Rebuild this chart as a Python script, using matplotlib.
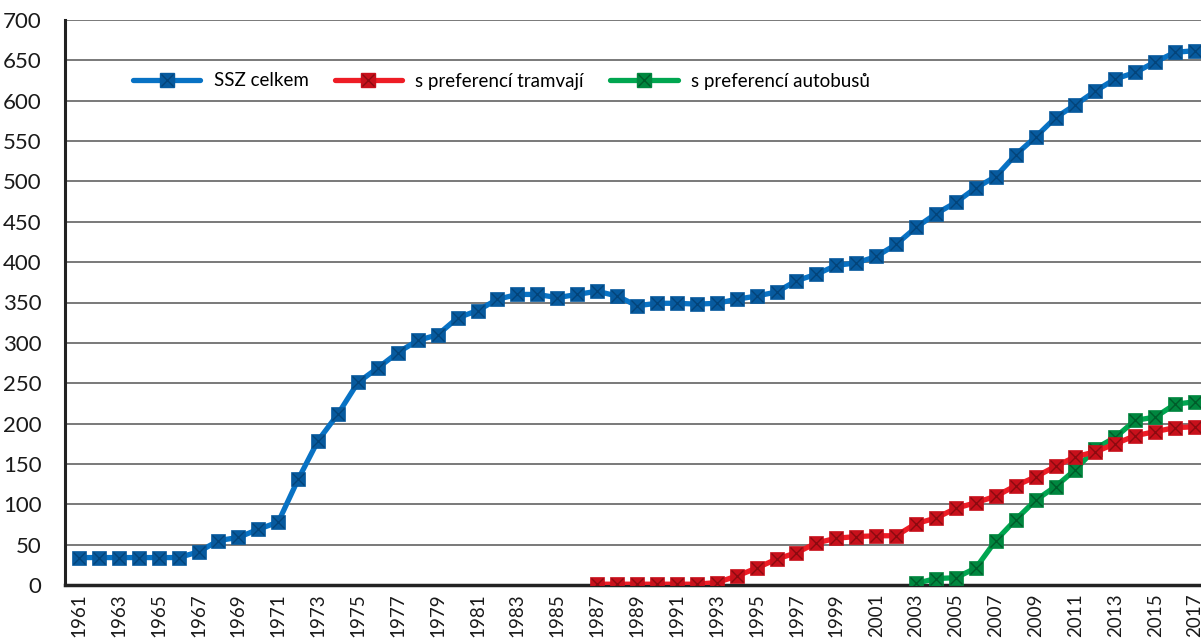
import numpy as np
import matplotlib.pyplot as plt
from matplotlib.legend_handler import HandlerTuple

plt.rcParams['font.family'] = ['Lato', 'DejaVu Sans']

years = np.arange(1961, 2018)

ssz_celkem = [34, 34, 34, 34, 34, 34, 41, 55, 59, 69, 78, 131, 179, 212, 251,
              269, 288, 303, 310, 331, 340, 354, 360, 360, 356, 360, 364, 358,
              346, 349, 349, 348, 349, 354, 358, 363, 377, 385, 396, 399, 407,
              422, 443, 460, 474, 492, 506, 533, 555, 579, 595, 612, 627, 635,
              648, 660, 662]

tram_years = np.arange(1987, 2018)
pref_tramvaji = [1, 1, 1, 1, 1, 1, 3, 11, 21, 32, 40, 52, 58, 60, 61, 61, 76,
                 83, 95, 102, 110, 123, 134, 147, 159, 165, 175, 185, 190, 195,
                 196]

bus_years = np.arange(2003, 2018)
pref_autobusu = [2, 8, 9, 21, 55, 81, 105, 122, 143, 169, 183, 204, 208, 224,
                 227]

series = [
    (years, ssz_celkem, 'SSZ celkem', '#0872c4', '#075a9e', '#03447a', 3),
    (tram_years, pref_tramvaji, 's preferencí tramvají', '#ee1c25', '#c8101b', '#8c0a10', 5),
    (bus_years, pref_autobusu, 's preferencí autobusů', '#00a650', '#00873f', '#005c2a', 4),
]

fig = plt.figure(figsize=(12.01, 6.39), dpi=100)
ax = fig.add_axes([65 / 1201, 1 - 585 / 639, (1209 - 65) / 1201, 565 / 639])

handles = []
labels = []
for x, y, name, lc, mc, xc, z in series:
    ax.plot(x, y, color=lc, lw=3.8, zorder=z, solid_capstyle='round')
    ax.plot(x, y, ls='none', marker='s', ms=10, mfc=mc, mec=mc, mew=0.5, zorder=z)
    ax.plot(x, y, ls='none', marker='x', ms=9, mec=xc, mew=1.0, zorder=z + 0.1)
    h1, = ax.plot([], [], color=lc, lw=3.8, marker='s', ms=10, mfc=mc, mec=mc,
                  solid_capstyle='round')
    h2, = ax.plot([], [], ls='none', marker='x', ms=9, mec=xc, mew=1.0)
    handles.append((h1, h2))
    labels.append(name)

ax.set_xlim(1960.3, 2017.7)
ax.set_ylim(0, 700)
ax.set_yticks(np.arange(0, 701, 50))
ax.set_xticks(years[::2])
ax.set_xticklabels([str(v) for v in years[::2]], rotation=90, va='top')
ax.tick_params(axis='y', length=0, pad=17, labelsize=16, colors='#1a1a1a')
ax.tick_params(axis='x', length=0, pad=6, labelsize=13.5, colors='#1a1a1a')

ax.grid(axis='y', color='#555555', lw=1.1)
ax.set_axisbelow(True)
for s in ['top', 'right']:
    ax.spines[s].set_visible(False)
ax.spines['left'].set_linewidth(2.2)
ax.spines['bottom'].set_linewidth(2.5)
ax.spines['left'].set_color('#222222')
ax.spines['bottom'].set_color('#222222')

fig.legend(handles, labels, loc='center left', bbox_to_anchor=(116 / 1201, 1 - 81 / 639),
           ncol=3, frameon=False, fontsize=13.5, handlelength=3.6, handletextpad=0.7,
           columnspacing=1.4, handler_map={tuple: HandlerTuple(ndivide=1)})

fig.savefig('out.png', dpi=100)
